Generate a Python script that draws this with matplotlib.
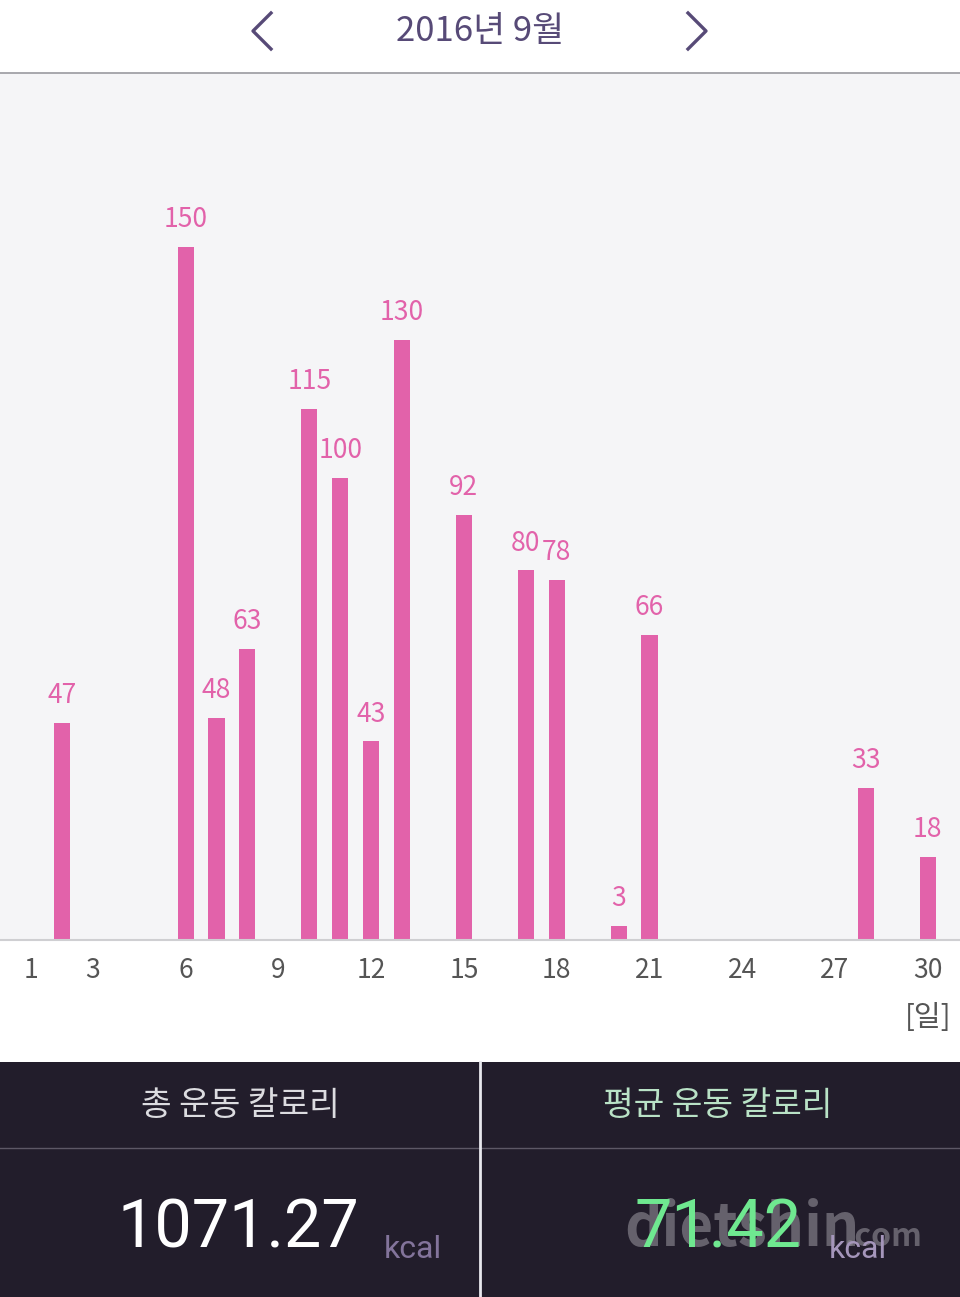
import matplotlib
matplotlib.use("Agg")
import matplotlib.pyplot as plt
from matplotlib.lines import Line2D
from matplotlib.patches import Rectangle

days = [2, 6, 7, 8, 10, 11, 12, 13, 15, 17, 18, 20, 21, 28, 30]
calories = [47, 150, 48, 63, 115, 100, 43, 130, 92, 80, 78, 3, 66, 33, 18]
xticks = [1, 3, 6, 9, 12, 15, 18, 21, 24, 27, 30]
title = "2016년 9월"
total_label = "총 운동 칼로리"
avg_label = "평균 운동 칼로리"
total_value = "1071.27"
avg_value = "71.42"
unit = "kcal"

plt.rcParams['font.family'] = ['Noto Sans CJK KR', 'DejaVu Sans']

W, H = 960, 1297
fig = plt.figure(figsize=(9.6, 12.97), dpi=100)
fig.patch.set_facecolor("white")

def fx(px):
    return px / W

def fy(py):
    return 1 - py / H

# chart axes
ax = fig.add_axes([0, fy(940), 1, (940 - 73) / H])
ax.set_facecolor("#f5f5f7")
bar_color = "#e262aa"
ax.bar(days, calories, width=0.52, color=bar_color)
for d, v in zip(days, calories):
    ax.text(d, v + 3.0, str(v), ha="center", va="bottom", color="#e262aa", fontsize=19)
ax.set_xlim(0, 31.04)
ax.set_ylim(0, 187.7)
ax.set_yticks([])
ax.set_xticks(xticks)
ax.set_xticklabels([str(t) for t in xticks], fontsize=19, color="#555555")
ax.tick_params(axis="x", length=0, pad=12)
for s in ["top", "left", "right"]:
    ax.spines[s].set_visible(False)
ax.spines["bottom"].set_color("#cfcfd2")
ax.spines["bottom"].set_linewidth(1.5)

fig.text(fx(928), fy(1018), "[일]", ha="center", va="center", fontsize=21, color="#555555")

# header
fig.text(fx(480), fy(31), title, ha="center", va="center", fontsize=25, color="#574a77")
fig.add_artist(Line2D([fx(271), fx(253), fx(271)], [fy(13), fy(31), fy(49)],
                      color="#574a77", lw=2.4, transform=fig.transFigure))
fig.add_artist(Line2D([fx(688), fx(706), fx(688)], [fy(13), fy(31), fy(49)],
                      color="#574a77", lw=2.4, transform=fig.transFigure))
fig.add_artist(Line2D([0, 1], [fy(73), fy(73)], color="#9a9aa0", lw=1.2,
                      transform=fig.transFigure))

# bottom dark panel
fig.add_artist(Rectangle((0, 0), 1, fy(1062), facecolor="#221d2b", edgecolor="none",
                         transform=fig.transFigure, zorder=0))
fig.add_artist(Line2D([0, 1], [fy(1148), fy(1148)], color="#5d5866", lw=1,
                      transform=fig.transFigure))
fig.add_artist(Line2D([fx(480), fx(480)], [0, fy(1062)], color="#e8e8ee", lw=2,
                      transform=fig.transFigure))

fig.text(fx(240), fy(1105), total_label, ha="center", va="center", fontsize=24, color="#dcdce0")
fig.text(fx(718), fy(1105), avg_label, ha="center", va="center", fontsize=24, color="#b9e2c6")

# watermark
fig.text(fx(624), fy(1246), "dietshin", ha="left", va="baseline", fontsize=42,
         fontweight="bold", color="#8a8790", alpha=0.65, zorder=1)
fig.text(fx(845), fy(1246), ".com", ha="left", va="baseline", fontsize=23,
         fontweight="bold", color="#8a8790", alpha=0.65, zorder=1)

fig.text(fx(238), fy(1230), total_value, ha="center", va="center", fontsize=48,
         color="white", family=["Roboto", "DejaVu Sans"], zorder=3)
fig.text(fx(413), fy(1250), unit, ha="center", va="center", fontsize=23,
         color="#83749b", family=["Roboto", "DejaVu Sans"], zorder=3)
fig.text(fx(718), fy(1230), avg_value, ha="center", va="center", fontsize=48,
         color="#6fe890", family=["Roboto", "DejaVu Sans"], zorder=3)
fig.text(fx(858), fy(1250), unit, ha="center", va="center", fontsize=23,
         color="#a596bb", family=["Roboto", "DejaVu Sans"], zorder=3)

fig.savefig("out.png", dpi=100, facecolor=fig.get_facecolor())
